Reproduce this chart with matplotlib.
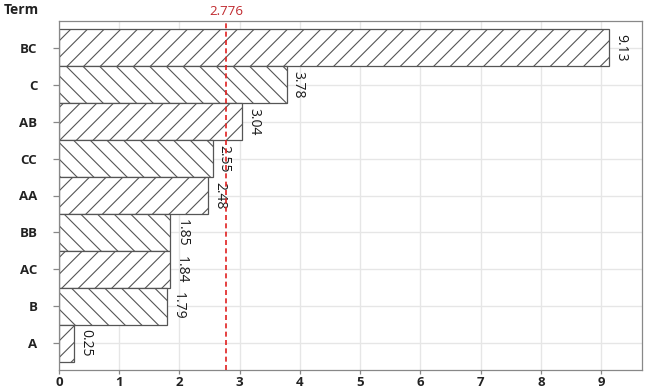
import matplotlib
matplotlib.use("Agg")
import matplotlib.pyplot as plt
import numpy as np

terms = ["BC", "C", "AB", "CC", "AA", "BB", "AC", "B", "A"]
values = [9.13, 3.78, 3.04, 2.55, 2.48, 1.85, 1.84, 1.79, 0.25]
ref_value = 2.776
xticks = [0, 1, 2, 3, 4, 5, 6, 7, 8, 9]

plt.rcParams['font.family'] = ['Open Sans', 'DejaVu Sans']
plt.rcParams['hatch.linewidth'] = 0.8
plt.rcParams['hatch.color'] = '#222222'

fig = plt.figure(figsize=(6.46, 3.91), dpi=100)
ax = fig.add_axes([59/646, 21/391, 583/646, 349/391])

n = len(terms)
ypos = np.arange(n)[::-1]
hatches = ['//' if i % 2 == 0 else '\\\\' for i in range(n)]
for y, v, h in zip(ypos, values, hatches):
    ax.barh(y, v, height=1.0, color='white', edgecolor='#555555', linewidth=0.9, hatch=h, zorder=2)
    ax.annotate(f"{v:.2f}", xy=(v, y), xytext=(3, 0), textcoords='offset points',
                rotation=270, va='center', ha='left', fontsize=10, color='#1a1a1a', zorder=3)

ax.axvline(ref_value, color='#e02020', linestyle=(0, (3, 2)), linewidth=1.2, zorder=4)
ax.text(ref_value, 1.008, f"{ref_value}", transform=ax.get_xaxis_transform(),
        ha='center', va='bottom', color='#c0282d', fontsize=9.5)

ax.set_xlim(0, 9.68)
ax.set_ylim(-0.73, n - 0.27)
ax.set_yticks(ypos)
ax.set_yticklabels(terms, fontsize=9.5, fontweight='bold', color='#222222')
ax.set_xticks(xticks)
ax.set_xticklabels([str(t) for t in xticks], fontsize=9.5, fontweight='bold', color='#222222')
ax.grid(True, color='#e6e6e6', linewidth=1.0, zorder=0)
ax.set_axisbelow(True)
for s in ax.spines.values():
    s.set_color('#888888')
    s.set_linewidth(0.9)
ax.tick_params(axis='x', color='#888888', length=3, width=0.9, pad=1.5)
ax.tick_params(axis='y', color='#888888', length=4.5, width=0.9, pad=11)

fig.text(4/646, 1 - 10/391, "Term", ha='left', va='center', fontsize=10,
         fontweight='bold', color='#222222')

fig.savefig("out.png", dpi=100)
